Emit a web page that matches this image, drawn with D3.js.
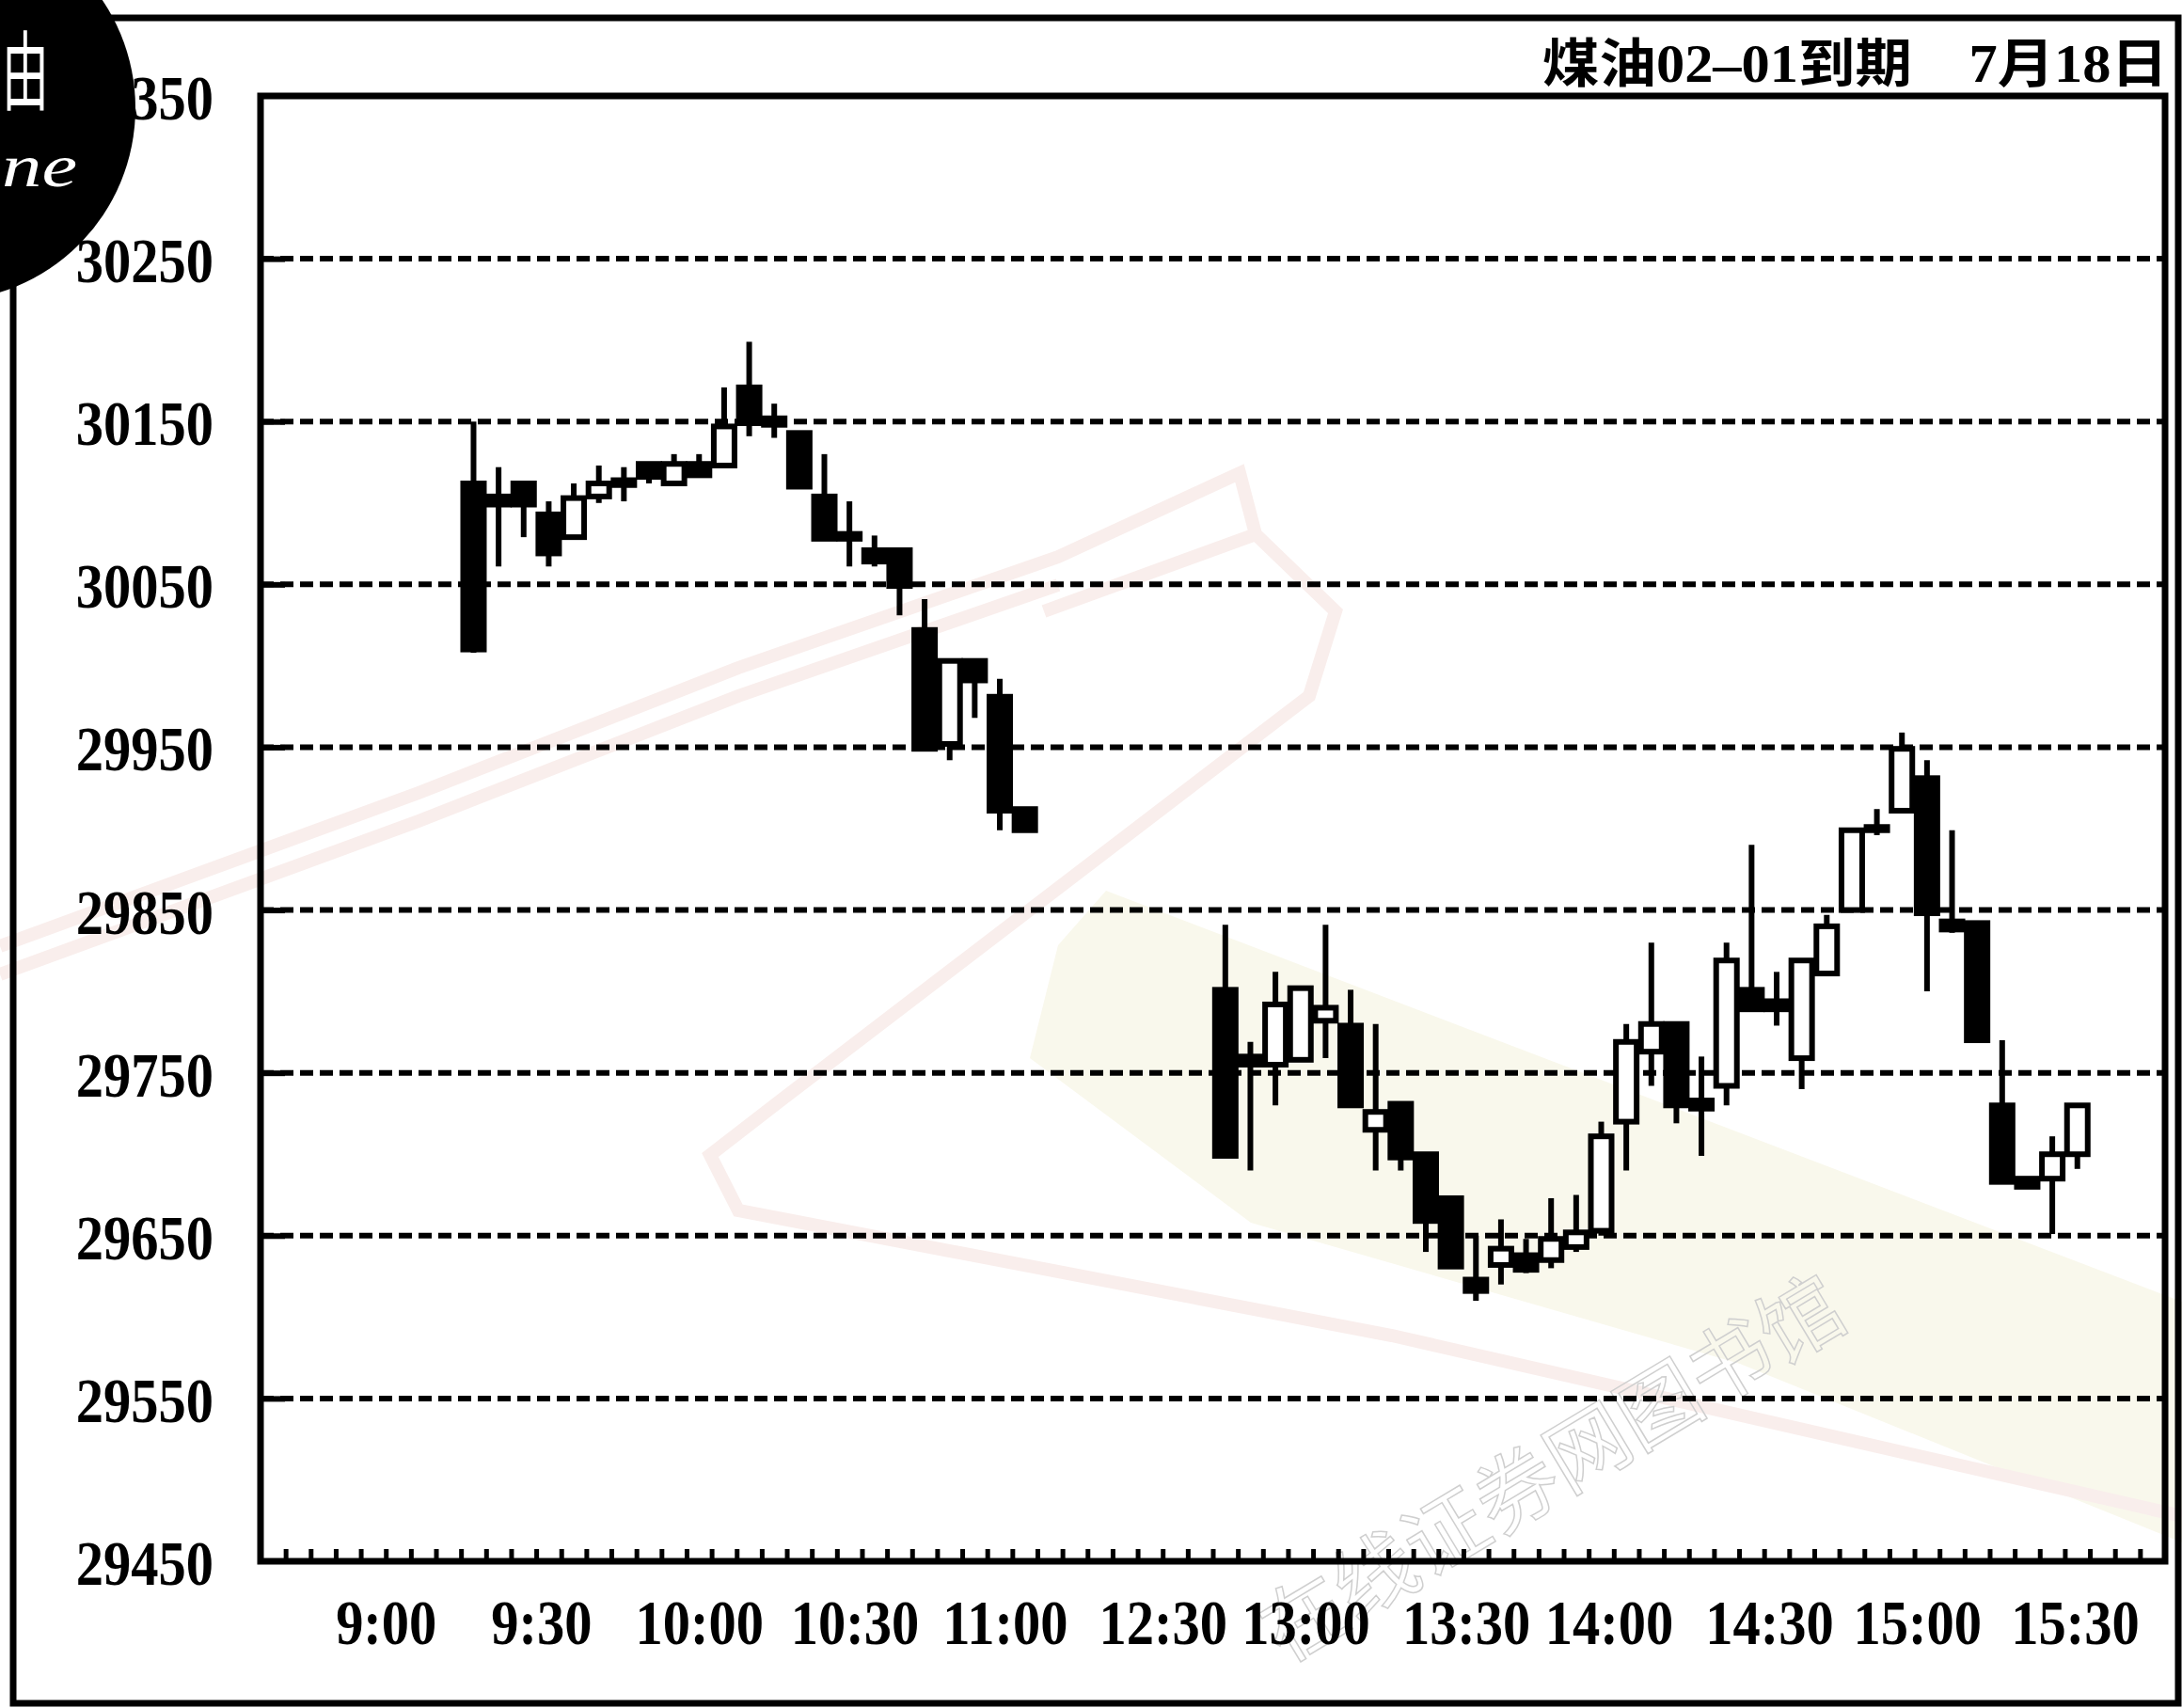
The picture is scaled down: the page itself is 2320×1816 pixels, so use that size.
<!DOCTYPE html>
<html>
<head>
<meta charset="utf-8">
<script src="https://cdn.jsdelivr.net/npm/d3@7"></script>
<style>
  body { margin: 0; background: #fff; }
  svg { display: block; }
  .num { font-family: 'Liberation Serif', 'DejaVu Serif', serif; font-weight: bold; }
</style>
</head>
<body>
<div id="chart"></div>
<script>
// 5-minute candles, slot = position on the compressed time axis
const slots = [8, 9, 10, 11, 12, 13, 14, 15, 16, 17, 18, 19, 20, 21, 22, 23, 24, 25, 26, 27, 28, 29, 30,
  38, 39, 40, 41, 42, 43, 44, 45, 46, 47, 48, 49, 50, 51, 52, 53, 54, 55, 56, 57, 58, 59, 60,
  61, 62, 63, 64, 65, 66, 67, 68, 69, 70, 71, 72]
const opens = [30112, 30104, 30112, 30093, 30079, 30104, 30114, 30124, 30112, 30124, 30123, 30171, 30152,
  30143, 30104, 30081, 30071, 30071, 30022, 29952, 30003, 29981, 29912,
  29801, 29760, 29755, 29758, 29782, 29779, 29715, 29731, 29700, 29673, 29623, 29632, 29638, 29635,
  29643, 29653, 29720, 29763, 29780, 29733, 29742, 29801, 29794, 29759, 29811, 29850, 29899, 29911,
  29931, 29843, 29842, 29730, 29685, 29685, 29700]
const highs = [30150, 30122, 30112, 30101, 30112, 30123, 30122, 30124, 30130, 30130, 30171, 30199, 30161,
  30143, 30130, 30101, 30080, 30071, 30041, 30003, 30003, 29992, 29912,
  29841, 29769, 29812, 29802, 29841, 29801, 29780, 29731, 29700, 29673, 29650, 29660, 29648, 29673,
  29675, 29720, 29780, 29830, 29780, 29760, 29830, 29890, 29812, 29819, 29847, 29899, 29912, 29959,
  29942, 29899, 29842, 29770, 29685, 29711, 29730]
const lows = [30008, 30061, 30079, 30061, 30079, 30100, 30101, 30112, 30111, 30117, 30123, 30141, 30140,
  30110, 30078, 30061, 30061, 30031, 29949, 29942, 29968, 29899, 29899,
  29699, 29690, 29730, 29758, 29759, 29730, 29690, 29690, 29640, 29631, 29610, 29620, 29627, 29630,
  29640, 29650, 29690, 29742, 29719, 29699, 29730, 29789, 29779, 29740, 29811, 29850, 29896, 29911,
  29800, 29836, 29770, 29683, 29680, 29651, 29691]
const closes = [30010, 30099, 30099, 30069, 30103, 30112, 30111, 30116, 30124, 30117, 30147, 30149, 30148,
  30110, 30078, 30078, 30064, 30049, 29949, 30003, 29991, 29911, 29899,
  29699, 29755, 29792, 29802, 29790, 29730, 29726, 29698, 29659, 29631, 29616, 29642, 29629, 29648,
  29652, 29711, 29769, 29780, 29730, 29728, 29819, 29789, 29789, 29819, 29840, 29899, 29901, 29949,
  29848, 29838, 29770, 29683, 29680, 29700, 29730]

const yTicks = [29450, 29550, 29650, 29750, 29850, 29950, 30050, 30150, 30250, 30350]
const gridValues = [29550, 29650, 29750, 29850, 29950, 30050, 30150, 30250]
const timeLabels = ['9:00', '9:30', '10:00', '10:30', '11:00', '12:30', '13:00', '13:30', '14:00', '14:30', '15:00', '15:30']
const labelSlots = [5.0, 11.2, 17.5, 23.7, 29.7, 36.0, 41.7, 48.1, 53.8, 60.2, 66.1, 72.4]
const title = '煤油02–01到期　7月18日'

const candles = slots.map((slot, i) => ({
  slot,
  open: opens[i],
  high: highs[i],
  low: lows[i],
  close: closes[i]
}))

const W = 2320,
  H = 1816,
  frame = { left: 277, top: 102, right: 2302, bottom: 1660 }

const xScale = d3
  .scaleLinear()
  .domain([0, 76])
  .range([frame.left, frame.right])

const yScale = d3
  .scaleLinear()
  .domain([29450, 30350])
  .range([frame.bottom, frame.top])

const svg = d3
  .select('#chart')
  .append('svg')
  .attr('width', W)
  .attr('height', H)

svg.append('rect').attr('width', W).attr('height', H).attr('fill', '#fff')

// faint scan watermark behind the chart
const wm = svg.append('g').attr('class', 'watermark')
wm.append('path')
  .attr('d', 'M1176,947 L2320,1384 L2320,1640 L1850,1450 L1330,1300 L1095,1125 L1125,1005 Z')
  .attr('fill', '#f9f8ec')
wm.append('path')
  .attr('d', 'M0,1006 L445,843 L785,710 L1125,592 L1318,503 L1335,568 L1110,650 M0,1036 L445,873 L785,740 L1125,622 M1335,568 L1420,650 L1392,740 L830,1170 L755,1228 L785,1287 L1480,1420 L2320,1612')
  .attr('fill', 'none')
  .attr('stroke', '#f9eeec')
  .attr('stroke-width', 14)
wm.append('text')
  .attr('transform', 'translate(1365,1770) rotate(-31)')
  .attr('font-family', "'Noto Sans CJK SC', sans-serif")
  .attr('font-size', 88)
  .attr('fill', 'none')
  .attr('stroke', '#cfcfcf')
  .attr('stroke-width', 1.5)
  .text('在线证券网图书馆')

// gridlines
svg
  .append('g')
  .selectAll('line')
  .data(gridValues)
  .join('line')
  .attr('x1', frame.left)
  .attr('x2', frame.right)
  .attr('y1', d => yScale(d))
  .attr('y2', d => yScale(d))
  .attr('stroke', '#000')
  .attr('stroke-width', 6)
  .attr('stroke-dasharray', '14 7')

// short solid stubs on the left frame
svg
  .append('g')
  .attr('transform', 'translate(' + frame.left + ',0)')
  .call(d3.axisRight(yScale).tickValues(gridValues).tickSize(26).tickFormat(''))
  .call(g => g.select('.domain').remove())
  .call(g => g.selectAll('line').attr('stroke', '#000').attr('stroke-width', 6))

// condensed tall digits like the print
const condense = sel =>
  sel.each(function() {
    const len = this.getComputedTextLength()
    d3.select(this)
      .attr('textLength', len * 0.86)
      .attr('lengthAdjust', 'spacingAndGlyphs')
  })

// y labels
svg
  .append('g')
  .attr('transform', 'translate(' + frame.left + ',0)')
  .call(d3.axisLeft(yScale).tickValues(yTicks).tickSize(0).tickPadding(50).tickFormat(d3.format('d')))
  .call(g => g.select('.domain').remove())
  .call(g =>
    g
      .selectAll('text')
      .attr('class', 'num')
      .attr('font-size', 68)
      .attr('fill', '#000')
      .attr('dy', '0.36em')
      .call(condense)
  )

// x minor ticks, pointing up into the plot
svg
  .append('g')
  .attr('transform', 'translate(0,' + frame.bottom + ')')
  .call(d3.axisTop(xScale).tickValues(d3.range(1, 76)).tickSize(13).tickFormat(''))
  .call(g => g.select('.domain').remove())
  .call(g => g.selectAll('line').attr('stroke', '#000').attr('stroke-width', 5))

// x labels
svg
  .append('g')
  .attr('transform', 'translate(0,' + frame.bottom + ')')
  .call(
    d3
      .axisBottom(xScale)
      .tickValues(labelSlots)
      .tickSize(0)
      .tickPadding(40)
      .tickFormat((d, i) => timeLabels[i])
  )
  .call(g => g.select('.domain').remove())
  .call(g =>
    g
      .selectAll('text')
      .attr('class', 'num')
      .attr('font-size', 68)
      .attr('fill', '#000')
      .call(condense)
  )

// candles
const bodyW = 22
const cg = svg
  .append('g')
  .selectAll('g')
  .data(candles)
  .join('g')
  .attr('transform', d => 'translate(' + xScale(d.slot + 0.5) + ',0)')

cg.append('line')
  .attr('y1', d => yScale(d.high))
  .attr('y2', d => yScale(d.low))
  .attr('stroke', '#000')
  .attr('stroke-width', 6)

cg.append('rect')
  .attr('x', -bodyW / 2)
  .attr('width', bodyW)
  .attr('y', d => yScale(Math.max(d.open, d.close)))
  .attr('height', d => Math.max(2, Math.abs(yScale(d.open) - yScale(d.close))))
  .attr('fill', d => (d.close < d.open ? '#000' : '#fff'))
  .attr('stroke', '#000')
  .attr('stroke-width', 6)

// plot frame
svg
  .append('rect')
  .attr('x', frame.left)
  .attr('y', frame.top)
  .attr('width', frame.right - frame.left)
  .attr('height', frame.bottom - frame.top)
  .attr('fill', 'none')
  .attr('stroke', '#000')
  .attr('stroke-width', 7)

// page border
svg
  .append('rect')
  .attr('x', 14)
  .attr('y', 19)
  .attr('width', 2302)
  .attr('height', 1792)
  .attr('fill', 'none')
  .attr('stroke', '#000')
  .attr('stroke-width', 7)

// title
svg
  .append('text')
  .attr('x', 2305)
  .attr('y', 87)
  .attr('text-anchor', 'end')
  .attr('font-family', "'Liberation Serif', 'Noto Sans CJK SC', serif")
  .attr('font-weight', 700)
  .attr('font-size', 56)
  .attr('textLength', 665)
  .attr('lengthAdjust', 'spacingAndGlyphs')
  .attr('fill', '#000')
  .text(title)

// black badge in the corner (only its visible part of the words)
svg.append('circle').attr('cx', -61).attr('cy', 115).attr('r', 205).attr('fill', '#000')
svg
  .append('text')
  .attr('x', 2)
  .attr('y', 110)
  .attr('font-family', "'Noto Sans CJK SC', sans-serif")
  .attr('font-size', 92)
  .attr('textLength', 50)
  .attr('lengthAdjust', 'spacingAndGlyphs')
  .attr('fill', '#fff')
  .text('由')
svg
  .append('text')
  .attr('x', 2)
  .attr('y', 198)
  .attr('font-family', "'Liberation Serif', serif")
  .attr('font-style', 'italic')
  .attr('font-size', 64)
  .attr('textLength', 80)
  .attr('lengthAdjust', 'spacingAndGlyphs')
  .attr('fill', '#fff')
  .text('ne')
</script>
</body>
</html>
